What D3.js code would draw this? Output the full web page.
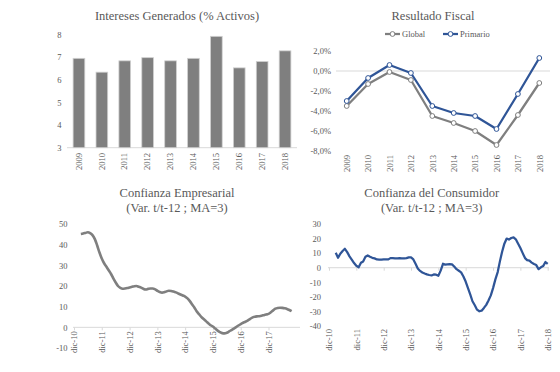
<!DOCTYPE html>
<html>
<head>
<meta charset="utf-8">
<script src="https://cdn.jsdelivr.net/npm/d3@7"></script>
<style>
    body { margin: 0; background: #fff; }
    svg text { font-family: "Liberation Serif", "Times New Roman", serif; fill: #595959; }
</style>
</head>
<body>
<div id="chart"></div>
<script>
// ---- data ----
var years = ["2009", "2010", "2011", "2012", "2013", "2014", "2015", "2016", "2017", "2018"];
var interesesValues = [6.94, 6.33, 6.83, 6.97, 6.83, 6.94, 7.91, 6.52, 6.80, 7.27];
var interesesTicks = [3, 4, 5, 6, 7, 8];

var fiscalGlobal = [-3.5, -1.3, -0.1, -0.9, -4.5, -5.2, -6.0, -7.4, -4.4, -1.2];
var fiscalPrimario = [-3.0, -0.7, 0.6, -0.2, -3.5, -4.2, -4.5, -5.8, -2.3, 1.3];
var fiscalTicks = [2, 0, -2, -4, -6, -8];

// monthly series, first value = mar-11
var monthStart = new Date(2011, 2, 1);
var empresarialValues = [
    45.2, 45.4, 45.7, 46.0, 45.6, 44.6, 42.7, 39.7, 36.2, 33.3,
    31.0, 29.3, 27.6, 25.8, 23.7, 21.7, 20.0, 19.1, 18.7, 18.8,
    19.0, 19.3, 19.6, 19.9, 20.0, 19.6, 19.2, 18.6, 18.3, 18.6,
    18.8, 18.8, 18.4, 17.7, 17.1, 16.8, 17.0, 17.4, 17.7, 17.6,
    17.3, 16.9, 16.4, 15.9, 15.4, 14.9, 14.0, 12.7, 11.2, 9.6,
    7.8, 6.4, 5.1, 4.0, 3.0, 2.0, 1.0, 0.4, -0.6, -1.6,
    -2.3, -2.8, -2.9, -2.6, -2.0, -1.3, -0.6, 0.1, 0.9, 1.6,
    2.2, 2.7, 3.3, 4.0, 4.7, 5.1, 5.3, 5.4, 5.6, 5.9,
    6.2, 6.5, 7.3, 8.2, 9.0, 9.4, 9.5, 9.4, 9.2, 8.9,
    8.4, 7.8
];
var consumidorValues = [
    10.3, 6.8, 9.6, 11.5, 13.0, 10.7, 7.8, 5.6, 3.2, 1.3,
    0.3, 3.4, 4.3, 7.5, 8.4, 7.5, 6.8, 6.4, 5.7, 5.6,
    5.5, 5.7, 5.7, 5.7, 6.6, 6.6, 6.4, 6.4, 6.5, 6.4,
    6.4, 6.6, 7.1, 7.1, 5.7, 2.6, -0.5, -2.2, -3.3, -4.0,
    -4.6, -5.0, -5.3, -4.6, -4.8, -5.5, -2.0, 2.7, 2.1, 2.3,
    2.4, 2.3, 0.8, -1.0, -2.1, -3.2, -6.0, -9.5, -14.0, -18.5,
    -23.0, -25.8, -28.8, -29.9, -29.5, -27.6, -25.5, -22.5, -19.0, -14.0,
    -8.0, -3.0, 4.0, 11.0, 16.5, 20.0, 19.3, 20.4, 20.8, 19.5,
    16.5, 13.5, 10.0, 6.6, 5.2, 4.9, 3.5, 2.5, 1.8, -1.0,
    0.3, 1.1, 3.9, 2.7
];
var empresarialTicks = [-10, 0, 10, 20, 30, 40, 50];
var consumidorTicks = [-40, -30, -20, -10, 0, 10, 20, 30];
var dicLabels = ["dic-10", "dic-11", "dic-12", "dic-13", "dic-14", "dic-15", "dic-16", "dic-17", "dic-18"];

var GREY = "#7f7f7f";
var BLUE = "#2f5597";
var GRID = "#d9d9d9";

var esFormat = d3.formatLocale({ decimal: ",", thousands: ".", grouping: [3], currency: ["", ""], minus: "-" });
var pct = esFormat.format(".1f");
var intFmt = esFormat.format("d");

var svg = d3.select("#chart").append("svg")
    .attr("width", 560)
    .attr("height", 372);

svg.append("rect").attr("width", 560).attr("height", 372).attr("fill", "#fff");

function toDate(i) { return d3.timeMonth.offset(monthStart, i); }
function dicDate(label) { return new Date(2000 + (+label.slice(4)), 11, 1); }

function title(lines, cx, y0) {
    lines.forEach(function (t, i) {
        svg.append("text")
            .attr("x", cx)
            .attr("y", y0 + i * 15.5)
            .attr("text-anchor", "middle")
            .attr("font-size", "12.5px")
            .text(t);
    });
}

function yAxis(scale, ticks, xRight, fmt) {
    var g = svg.append("g")
        .attr("transform", "translate(" + xRight + ",0)")
        .call(d3.axisLeft(scale).tickValues(ticks).tickSize(0).tickPadding(0).tickFormat(fmt || intFmt));
    g.select(".domain").remove();
    g.selectAll("text").attr("font-size", "8.5px").attr("fill", "#595959");
    return g;
}

// rotated labels hanging down from yTop
function xLabels(axis, yTop) {
    var g = svg.append("g")
        .attr("transform", "translate(0," + yTop + ")")
        .call(axis.tickSize(0).tickPadding(0));
    g.select(".domain").remove();
    g.selectAll("text")
        .attr("font-size", "8.5px")
        .attr("fill", "#595959")
        .attr("x", 0)
        .attr("y", 0)
        .attr("dy", "0.32em")
        .attr("transform", "rotate(-90)")
        .style("text-anchor", "end");
    return g;
}

// ---- Intereses Generados ----
(function () {
    var x = d3.scaleBand().domain(years).range([67.5, 296.5]).paddingInner(0.49).paddingOuter(0.245);
    var y = d3.scaleLinear().domain([3, 8]).range([147.7, 34.3]);

    title(["Intereses Generados (% Activos)"], 177, 20);
    yAxis(y, interesesTicks, 61.5);

    svg.append("line")
        .attr("x1", 67).attr("x2", 297)
        .attr("y1", y(3)).attr("y2", y(3))
        .attr("stroke", GRID).attr("stroke-width", 1);

    svg.append("g").selectAll("rect")
        .data(interesesValues)
        .enter().append("rect")
        .attr("x", function (d, i) { return x(years[i]); })
        .attr("y", function (d) { return y(d); })
        .attr("width", x.bandwidth())
        .attr("height", function (d) { return y(3) - y(d); })
        .attr("fill", GREY)
        .attr("stroke", "#d0d0d0")
        .attr("stroke-width", 0.8);

    xLabels(d3.axisBottom(x), 153);
})();

// ---- Resultado Fiscal ----
(function () {
    var x = d3.scalePoint().domain(years).range([346.7, 539.3]);
    var y = d3.scaleLinear().domain([-8, 2]).range([151, 51]);

    title(["Resultado Fiscal"], 433, 19.5);
    yAxis(y, fiscalTicks, 331, function (d) { return pct(d) + "%"; });

    svg.append("line")
        .attr("x1", 336).attr("x2", 550)
        .attr("y1", y(0)).attr("y2", y(0))
        .attr("stroke", GRID).attr("stroke-width", 1);

    var line = d3.line()
        .x(function (d, i) { return x(years[i]); })
        .y(function (d) { return y(d); });

    [[fiscalGlobal, GREY], [fiscalPrimario, BLUE]].forEach(function (s) {
        svg.append("path")
            .datum(s[0])
            .attr("d", line)
            .attr("fill", "none")
            .attr("stroke", s[1])
            .attr("stroke-width", 2.25)
            .attr("stroke-linejoin", "round");
        svg.append("g").selectAll("circle")
            .data(s[0])
            .enter().append("circle")
            .attr("cx", function (d, i) { return x(years[i]); })
            .attr("cy", function (d) { return y(d); })
            .attr("r", 2.4)
            .attr("fill", "#fff")
            .attr("stroke", s[1])
            .attr("stroke-width", 1);
    });

    // legend
    var legend = [["Global", GREY, 385], ["Primario", BLUE, 443]];
    legend.forEach(function (l) {
        svg.append("line")
            .attr("x1", l[2]).attr("x2", l[2] + 15)
            .attr("y1", 34).attr("y2", 34)
            .attr("stroke", l[1]).attr("stroke-width", 2.25);
        svg.append("circle")
            .attr("cx", l[2] + 7.5).attr("cy", 34).attr("r", 2.4)
            .attr("fill", "#fff").attr("stroke", l[1]).attr("stroke-width", 1);
        svg.append("text")
            .attr("x", l[2] + 17).attr("y", 37)
            .attr("font-size", "8.5px")
            .text(l[0]);
    });

    xLabels(d3.axisBottom(x), 155);
})();

// ---- Confianza Empresarial ----
(function () {
    var x = d3.scaleTime().domain([dicDate("dic-10"), dicDate("dic-17")]).range([74, 268.5]);
    var y = d3.scaleLinear().domain([-10, 50]).range([348, 224]);

    title(["Confianza Empresarial", "(Var. t/t-12 ; MA=3)"], 177, 196.5);
    yAxis(y, empresarialTicks, 67.5);

    var ticks = dicLabels.slice(0, 8).map(dicDate);
    var axis = svg.append("g")
        .attr("transform", "translate(0," + y(0) + ")")
        .call(d3.axisBottom(x).tickValues(ticks).tickSize(3).tickFormat(""));
    axis.select(".domain").attr("stroke", GRID).attr("d", "M73,0H300");
    axis.selectAll("line").attr("stroke", GRID);

    xLabels(d3.axisBottom(x).tickValues(ticks).tickFormat(function (d, i) { return dicLabels[i]; }), y(0) + 4);

    svg.append("path")
        .datum(empresarialValues)
        .attr("d", d3.line()
            .x(function (d, i) { return x(toDate(i)); })
            .y(function (d) { return y(d); })
            .curve(d3.curveMonotoneX))
        .attr("fill", "none")
        .attr("stroke", GREY)
        .attr("stroke-width", 2.6)
        .attr("stroke-linejoin", "round");
})();

// ---- Confianza del Consumidor ----
(function () {
    var x = d3.scaleTime().domain([dicDate("dic-10"), dicDate("dic-18")]).range([329, 547.7]);
    var y = d3.scaleLinear().domain([-40, 30]).range([326, 224]);

    title(["Confianza del Consumidor", "(Var. t/t-12 ; MA=3)"], 431.7, 196.5);
    yAxis(y, consumidorTicks, 321);

    var ticks = dicLabels.map(dicDate);
    var axis = svg.append("g")
        .attr("transform", "translate(0," + y(0) + ")")
        .call(d3.axisBottom(x).tickValues(ticks).tickSize(3).tickFormat(""));
    axis.select(".domain").attr("stroke", GRID).attr("d", "M328,0H549");
    axis.selectAll("line").attr("stroke", GRID);

    xLabels(d3.axisBottom(x).tickValues(ticks).tickFormat(function (d, i) { return dicLabels[i]; }), 329);

    svg.append("path")
        .datum(consumidorValues)
        .attr("d", d3.line()
            .x(function (d, i) { return x(toDate(i)); })
            .y(function (d) { return y(d); }))
        .attr("fill", "none")
        .attr("stroke", BLUE)
        .attr("stroke-width", 2.25)
        .attr("stroke-linejoin", "round");
})();
</script>
</body>
</html>
